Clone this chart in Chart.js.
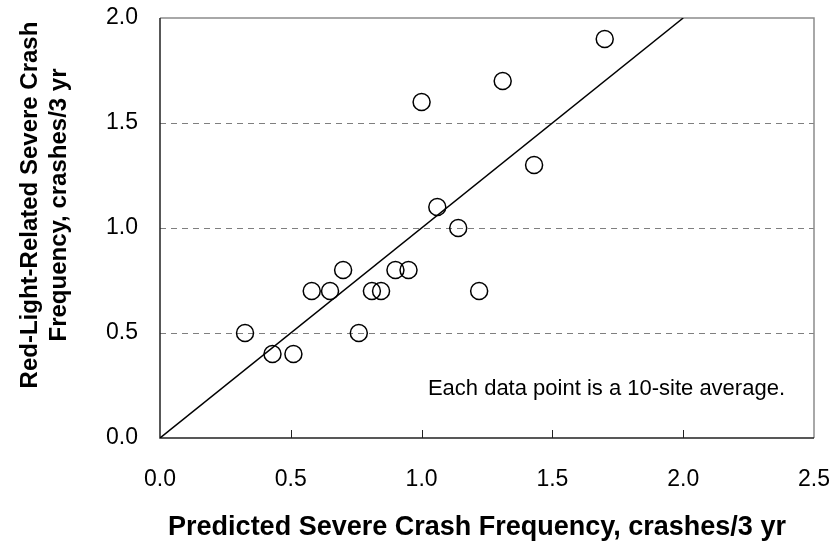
<!DOCTYPE html>
<html>
<head>
<meta charset="utf-8">
<script src="https://cdn.jsdelivr.net/npm/chart.js@4"></script>
<style>
  html, body { margin: 0; padding: 0; background: #fff; }
  #wrap { width: 836px; height: 553px; position: relative; }
</style>
</head>
<body>
<div id="wrap"><canvas id="chart" width="836" height="553"></canvas></div>
<script>
// Ten-site averages: predicted vs. observed severe red-light crashes (per 3 yr)
const predicted = [0.325, 0.43, 0.51, 0.58, 0.65, 0.70, 0.76, 0.81, 0.845, 0.90, 0.95, 1.00, 1.06, 1.14, 1.22, 1.31, 1.43, 1.70];
const observed  = [0.50, 0.40, 0.40, 0.70, 0.70, 0.80, 0.50, 0.70, 0.70, 0.80, 0.80, 1.60, 1.10, 1.00, 0.70, 1.70, 1.30, 1.90];

// Line of equality
const equalityX = [0, 2];
const equalityY = [0, 2];

// Axis tick values
const xTicks = [0.0, 0.5, 1.0, 1.5, 2.0, 2.5];
const yTicks = [0.0, 0.5, 1.0, 1.5, 2.0];

const xTitle = 'Predicted Severe Crash Frequency, crashes/3 yr';
const yTitle = ['Red-Light-Related Severe Crash', 'Frequency, crashes/3 yr'];
const note = 'Each data point is a 10-site average.';

const FONT = '"Liberation Sans", Arial, sans-serif';

const points = predicted.map((x, i) => ({ x: x, y: observed[i] }));
const equality = equalityX.map((x, i) => ({ x: x, y: equalityY[i] }));

// Frame, dashed gridlines, inward tick marks and text
const framePlugin = {
  id: 'frame',
  beforeDatasetsDraw(chart) {
    const { ctx, chartArea: a, scales: { x, y } } = chart;
    ctx.save();
    // dashed horizontal gridlines
    ctx.strokeStyle = '#7f7f7f';
    ctx.lineWidth = 1;
    ctx.setLineDash([6, 5]);
    yTicks.forEach(v => {
      if (v <= y.min || v >= y.max) return;
      const py = Math.round(y.getPixelForValue(v)) + 0.5;
      ctx.beginPath();
      ctx.moveTo(a.left, py);
      ctx.lineTo(a.right, py);
      ctx.stroke();
    });
    ctx.setLineDash([]);
    // top and right border
    ctx.strokeStyle = '#8c8c8c';
    ctx.lineWidth = 1.5;
    ctx.beginPath();
    ctx.moveTo(a.left, a.top);
    ctx.lineTo(a.right, a.top);
    ctx.lineTo(a.right, a.bottom);
    ctx.stroke();
    // left and bottom axes
    ctx.strokeStyle = '#222';
    ctx.lineWidth = 1.5;
    ctx.beginPath();
    ctx.moveTo(a.left, a.top);
    ctx.lineTo(a.left, a.bottom);
    ctx.lineTo(a.right, a.bottom);
    ctx.stroke();
    // inward tick marks on the x axis
    ctx.lineWidth = 1;
    xTicks.forEach(v => {
      if (v <= x.min || v >= x.max) return;
      const px = Math.round(x.getPixelForValue(v)) + 0.5;
      ctx.beginPath();
      ctx.moveTo(px, a.bottom);
      ctx.lineTo(px, a.bottom - 8);
      ctx.stroke();
    });
    ctx.restore();
  },
  afterDraw(chart) {
    const { ctx, scales: { x, y } } = chart;
    ctx.save();
    ctx.fillStyle = '#000';
    ctx.textAlign = 'center';
    ctx.textBaseline = 'middle';
    // x axis title
    ctx.font = 'bold 27px ' + FONT;
    ctx.fillText(xTitle, 477, 528);
    // y axis title (two rotated lines)
    ctx.font = 'bold 24px ' + FONT;
    ctx.translate(30, 205);
    ctx.rotate(-Math.PI / 2);
    ctx.fillText(yTitle[0], 0, 0);
    ctx.fillText(yTitle[1], 0, 29);
    ctx.restore();
    // note inside the plot
    ctx.save();
    ctx.fillStyle = '#000';
    ctx.font = '22px ' + FONT;
    ctx.textAlign = 'right';
    ctx.textBaseline = 'middle';
    ctx.fillText(note, x.getPixelForValue(2.5) - 29, y.getPixelForValue(0.235));
    ctx.restore();
  }
};

new Chart(document.getElementById('chart'), {
  type: 'scatter',
  data: {
    datasets: [
      {
        type: 'line',
        data: equality,
        borderColor: '#000',
        borderWidth: 1.5,
        pointRadius: 0,
        fill: false,
        tension: 0,
        order: 2
      },
      {
        data: points,
        pointStyle: 'circle',
        pointRadius: 8.5,
        pointHoverRadius: 8.5,
        borderColor: '#000',
        borderWidth: 1.5,
        backgroundColor: 'rgba(0,0,0,0)',
        order: 1
      }
    ]
  },
  options: {
    responsive: false,
    animation: false,
    events: [],
    layout: { padding: { top: 18, right: 22, left: 0, bottom: 0 } },
    plugins: { legend: { display: false }, tooltip: { enabled: false } },
    scales: {
      x: {
        type: 'linear',
        min: 0, max: 2.5,
        afterFit(s) { s.height = 115; s.paddingLeft = 0; s.paddingRight = 0; },
        afterBuildTicks(s) { s.ticks = xTicks.map(v => ({ value: v })); },
        grid: { display: false, drawTicks: false },
        border: { display: false },
        ticks: {
          padding: 28,
          color: '#000',
          font: { family: FONT, size: 23 },
          maxRotation: 0,
          callback: v => Number(v).toFixed(1)
        }
      },
      y: {
        type: 'linear',
        min: 0, max: 2,
        afterFit(s) { s.width = 160; s.paddingTop = 0; s.paddingBottom = 0; },
        afterBuildTicks(s) { s.ticks = yTicks.map(v => ({ value: v })); },
        grid: { display: false, drawTicks: false },
        border: { display: false },
        ticks: {
          padding: 22,
          color: '#000',
          font: { family: FONT, size: 23 },
          callback: v => Number(v).toFixed(1)
        }
      }
    }
  },
  plugins: [framePlugin]
});
</script>
</body>
</html>
